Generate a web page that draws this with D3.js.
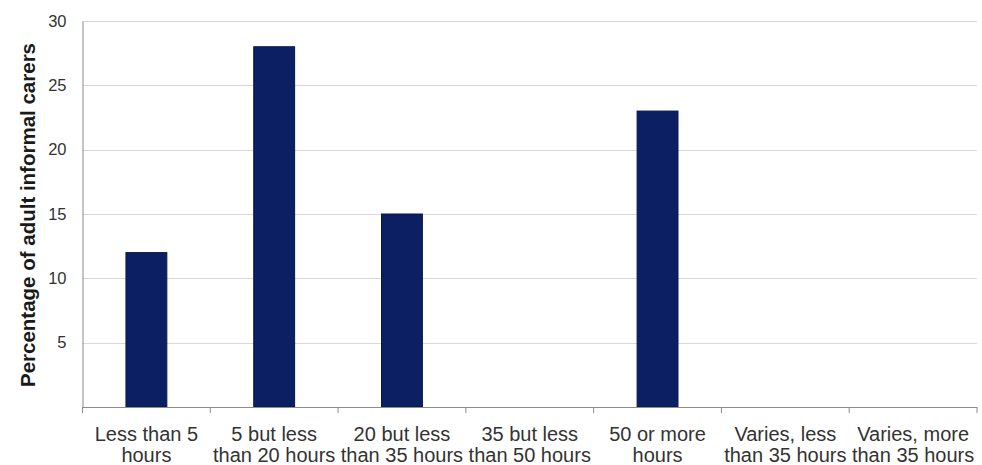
<!DOCTYPE html>
<html>
<head>
<meta charset="utf-8">
<script src="https://cdn.jsdelivr.net/npm/d3@7"></script>
<style>
  html, body { margin: 0; padding: 0; background: #ffffff; }
  svg { display: block; font-family: "Liberation Sans", Arial, sans-serif; }
</style>
</head>
<body>
<svg id="chart" width="982" height="465"></svg>
<script>
// Hours of care per week and share of adult informal carers (%)
const categories = [
  ["Less than 5", "hours"],
  ["5 but less", "than 20 hours"],
  ["20 but less", "than 35 hours"],
  ["35 but less", "than 50 hours"],
  ["50 or more", "hours"],
  ["Varies, less", "than 35 hours"],
  ["Varies, more", "than 35 hours"]
];
const values = [12, 28, 15, 0, 23, 0, 0];
const yTicks = [5, 10, 15, 20, 25, 30];
const yTitle = "Percentage of adult informal carers";

const svg = d3.select("#chart");
const margin = { left: 82.5, right: 5, top: 21, bottom: 58 };
const W = 982, H = 465;

const x = d3.scaleBand()
  .domain(d3.range(categories.length))
  .range([margin.left, W - margin.right])
  .paddingInner(0.68)
  .paddingOuter(0.34);

const y = d3.scaleLinear()
  .domain([0, 30])
  .range([H - margin.bottom, margin.top]);

// horizontal gridlines
svg.append("g")
  .selectAll("line")
  .data(yTicks)
  .join("line")
  .attr("x1", margin.left)
  .attr("x2", W - margin.right)
  .attr("y1", d => Math.round(y(d)) + 0.5)
  .attr("y2", d => Math.round(y(d)) + 0.5)
  .attr("stroke", "#d9d9d9")
  .attr("stroke-width", 1);

// bars
svg.append("g")
  .selectAll("rect")
  .data(values)
  .join("rect")
  .attr("x", (d, i) => x(i))
  .attr("width", x.bandwidth())
  .attr("y", d => y(d))
  .attr("height", d => y(0) - y(d))
  .attr("fill", "#0d1f63")
  .attr("stroke", "#0a174c")
  .attr("stroke-width", 1);

// y axis
const yAxis = d3.axisLeft(y)
  .tickValues(yTicks)
  .tickSize(0)
  .tickPadding(16);
const gy = svg.append("g")
  .attr("transform", `translate(${margin.left},0)`)
  .call(yAxis);
gy.select(".domain").attr("stroke", "#8c8c8c");
gy.selectAll("text")
  .attr("font-size", 16.5)
  .attr("fill", "#333333")
  .attr("font-family", "'Liberation Sans', Arial, sans-serif");

// x axis with tick marks at category boundaries
const step = x.step();
const boundaries = d3.range(categories.length + 1).map(i => margin.left + i * step);
const gx = svg.append("g");
gx.append("line")
  .attr("x1", margin.left)
  .attr("x2", W - margin.right)
  .attr("y1", y(0) + 0.5)
  .attr("y2", y(0) + 0.5)
  .attr("stroke", "#8c8c8c");
gx.selectAll("line.tick")
  .data(boundaries)
  .join("line")
  .attr("class", "tick")
  .attr("x1", d => d)
  .attr("x2", d => d)
  .attr("y1", y(0))
  .attr("y2", y(0) + 6)
  .attr("stroke", "#8c8c8c");

// category labels (two lines each)
const labels = gx.selectAll("text.cat")
  .data(categories)
  .join("text")
  .attr("class", "cat")
  .attr("text-anchor", "middle")
  .attr("font-size", 20)
  .attr("fill", "#333333");
labels.each(function (lines, i) {
  const cx = x(i) + x.bandwidth() / 2;
  d3.select(this).selectAll("tspan")
    .data(lines)
    .join("tspan")
    .attr("x", cx)
    .attr("y", (d, j) => 441 + j * 21)
    .text(d => d);
});

// y axis title
svg.append("text")
  .attr("transform", `translate(35,${(margin.top + y(0)) / 2 + 1}) rotate(-90)`)
  .attr("text-anchor", "middle")
  .attr("font-size", 20.5)
  .attr("font-weight", "bold")
  .attr("fill", "#1a1a1a")
  .text(yTitle);
</script>
</body>
</html>
